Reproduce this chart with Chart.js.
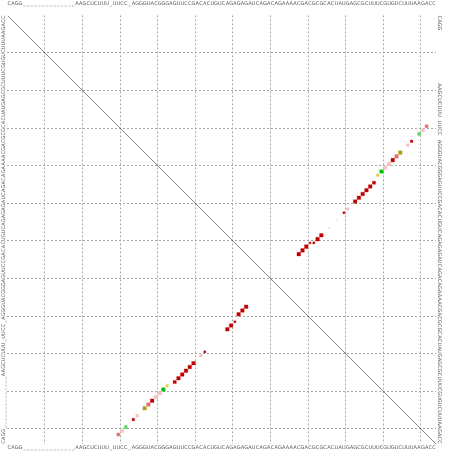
<!DOCTYPE html>
<html>
<head>
<meta charset="utf-8">
<script src="https://cdn.jsdelivr.net/npm/chart.js@4.4.0/dist/chart.umd.min.js"></script>
<style>
  html, body { margin: 0; padding: 0; background: #fff; }
  canvas { display: block; }
</style>
</head>
<body>
<canvas id="dotplot" width="452" height="451"></canvas>
<script>
// alignment consensus, '_' marks a gap column
const sequence = 'CAGG' + '______________' + 'AAGCUCUUU_UUCC_' +
    'AGGGUACGGGAGUUCCGACACUG' +
    'UCAGAGAGAUCAGACAGAAAACGACGCGCACUAUGAGCGCUUUCGUGUCUUUAAGACC';
const seqLetters = sequence.split('');
const N = seqLetters.length;

// base pairs of the structure (i < j)
const pairI = [30, 31, 32, 34, 35, 37, 38, 39, 40, 41, 42, 43, 45, 46, 47, 48, 49, 50, 52, 53, 59, 60, 61, 62, 63, 64];
const pairJ = [112, 111, 110, 108, 107, 105, 104, 103, 102, 101, 100, 99, 98, 97, 96, 95, 94, 93, 91, 90, 84, 83, 82, 80, 79, 78];
// pair probability
const pairProb = [0.65, 0.7, 0.7, 0.45, 0.5, 0.9, 0.9, 0.9, 0.9, 0.9, 0.9, 0.45, 0.7, 0.9, 0.9, 0.9, 0.9, 0.9, 0.5, 0.3, 0.9, 0.9, 0.3, 0.9, 0.9, 0.9];
// number of different pair types (1 red, 2 ochre, 3 green)
const pairTypes = [1, 1, 3, 1, 1, 2, 1, 1, 1, 1, 3, 2, 1, 1, 1, 1, 1, 1, 1, 1, 1, 1, 1, 1, 1, 1];
// number of inconsistent sequences
const pairMismatch = [1, 2, 1, 0, 2, 0, 1, 0, 2, 2, 0, 1, 0, 0, 0, 0, 0, 0, 2, 0, 0, 0, 0, 0, 0, 0];

// weak alternative pairs, only in the probability half
const altI = [61, 55, 57];
const altJ = [81, 88, 86];
const altProb = [0.25, 0.04, 0.08];
const altTypes = [1, 1, 1];
const altMismatch = [0, 2, 2];

const PALETTE = {
    1: ['#c00000', '#e07070', '#f4c0c0'],
    2: ['#aaa010', '#d8cc50', '#ece6a8'],
    3: ['#00c000', '#60d860', '#b0ecb0']
};

function pairColor(t, m) {
    return PALETTE[t][Math.min(m, 2)];
}

// lower-left: structure, upper-right: probabilities (+ alternatives)
const lowerPts = pairI.map((i, k) => ({ x: i, y: pairJ[k] }));
const upperPts = pairI.map((i, k) => ({ x: pairJ[k], y: i }))
    .concat(altI.map((i, k) => ({ x: altJ[k], y: i })));
const upperProb = pairProb.concat(altProb);
const upperColors = pairTypes.map((t, k) => pairColor(t, pairMismatch[k]))
    .concat(altTypes.map((t, k) => pairColor(t, altMismatch[k])));
const lowerColors = pairTypes.map((t, k) => pairColor(t, pairMismatch[k]));

function squareRadius(probs) {
    return ctx => {
        const s = ctx.chart.scales.x;
        const cell = Math.abs(s.getPixelForValue(2) - s.getPixelForValue(1));
        const p = probs[ctx.dataIndex] || 0;
        return cell * Math.sqrt(p) / Math.SQRT2;
    };
}

const positions = seqLetters.map((_, k) => k + 1);
const boundaries = [];
for (let b = 10; b < N; b += 10) boundaries.push(b + 0.5);

function setTicks(withGrid) {
    return scale => {
        const vals = withGrid ? positions.concat(boundaries) : positions.slice();
        vals.sort((a, b) => a - b);
        scale.ticks = vals.map(v => ({ value: v }));
    };
}

const tickFont = { family: 'DejaVu Sans', size: 5 };
const gridColor = c => (c.tick && !Number.isInteger(c.tick.value)) ? '#a8a8a8' : 'rgba(0,0,0,0)';

function letterAt(v, fn) {
    if (!Number.isInteger(v)) return '';
    return fn(v);
}

// rotated sequence letters down the left and right sides
const sideLabels = {
    id: 'sideLabels',
    afterDraw(chart) {
        const { ctx, chartArea } = chart;
        const ys = chart.scales.y;
        ctx.save();
        ctx.font = '5px "DejaVu Sans"';
        ctx.fillStyle = '#555';
        ctx.textAlign = 'center';
        ctx.textBaseline = 'middle';
        positions.forEach(p => {
            const py = ys.getPixelForValue(p);
            // left side reads bottom-up
            const lc = seqLetters[N - p];
            ctx.save();
            ctx.translate(chartArea.left - 3.5, py);
            ctx.rotate(-Math.PI / 2);
            ctx.fillText(lc, 0, 0);
            ctx.restore();
            // right side reads top-down, gaps left blank
            const rc = seqLetters[p - 1];
            if (rc !== '_') {
                ctx.save();
                ctx.translate(chartArea.right + 3.5, py);
                ctx.rotate(Math.PI / 2);
                ctx.fillText(rc, 0, 0);
                ctx.restore();
            }
        });
        ctx.restore();
    }
};

new Chart(document.getElementById('dotplot'), {
    type: 'scatter',
    data: {
        datasets: [
            {
                label: 'diagonal',
                data: [{ x: 0.5, y: 0.5 }, { x: N + 0.5, y: N + 0.5 }],
                showLine: true,
                borderColor: '#333',
                borderWidth: 0.6,
                pointRadius: 0
            },
            {
                label: 'mfe',
                data: lowerPts,
                pointStyle: 'rect',
                pointRadius: squareRadius(pairProb),
                pointBackgroundColor: lowerColors,
                pointBorderColor: lowerColors.map(c => c + '66'),
                pointBorderWidth: 0.8
            },
            {
                label: 'prob',
                data: upperPts,
                pointStyle: 'rect',
                pointRadius: squareRadius(upperProb),
                pointBackgroundColor: upperColors,
                pointBorderColor: upperColors.map(c => c + '66'),
                pointBorderWidth: 0.8
            }
        ]
    },
    plugins: [sideLabels],
    options: {
        responsive: false,
        animation: false,
        events: [],
        layout: { padding: 0 },
        plugins: { legend: { display: false }, tooltip: { enabled: false } },
        scales: {
            x: {
                type: 'linear', position: 'bottom', min: 0.5, max: N + 0.5,
                afterBuildTicks: setTicks(true),
                afterFit: s => { s.height = 7; },
                grid: { color: gridColor, lineWidth: 1, drawTicks: false },
                border: { display: false, dash: [2, 2] },
                ticks: {
                    autoSkip: false, maxRotation: 0, minRotation: 0, padding: 1,
                    font: tickFont, color: '#555',
                    callback: v => letterAt(v, p => seqLetters[p - 1])
                }
            },
            xTop: {
                type: 'linear', position: 'top', min: 0.5, max: N + 0.5,
                afterBuildTicks: setTicks(false),
                afterFit: s => { s.height = 15.4; },
                grid: { display: false },
                border: { display: false },
                ticks: {
                    autoSkip: false, maxRotation: 0, minRotation: 0, padding: 1,
                    font: tickFont, color: '#555',
                    callback: v => letterAt(v, p => seqLetters[p - 1])
                }
            },
            y: {
                type: 'linear', position: 'left', reverse: true, min: 0.5, max: N + 0.5,
                afterBuildTicks: setTicks(true),
                afterFit: s => { s.width = 7.4; },
                grid: { color: gridColor, lineWidth: 1, drawTicks: false },
                border: { display: false, dash: [2, 2] },
                ticks: { display: false }
            },
            yRight: {
                type: 'linear', position: 'right', reverse: true, min: 0.5, max: N + 0.5,
                afterFit: s => { s.width = 16; },
                grid: { display: false },
                border: { display: false },
                ticks: { display: false }
            }
        }
    }
});
</script>
</body>
</html>
